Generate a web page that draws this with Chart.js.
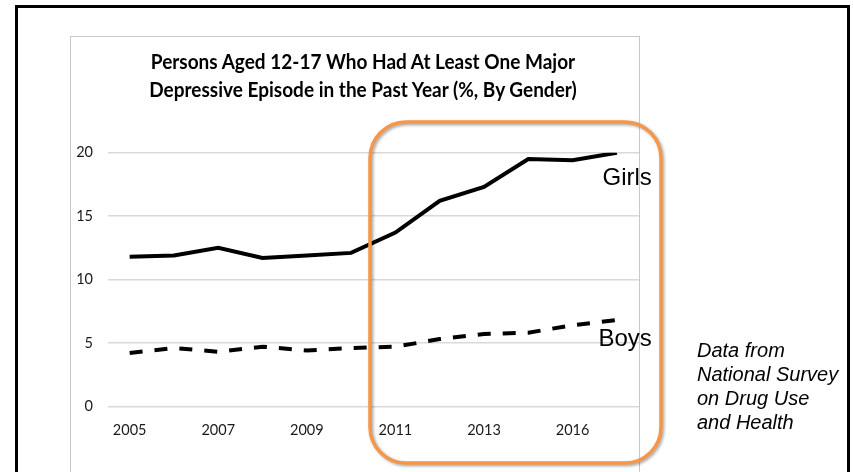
<!DOCTYPE html>
<html>
<head>
<meta charset="utf-8">
<script src="https://cdn.jsdelivr.net/npm/chart.js@4.4.1/dist/chart.umd.min.js"></script>
<style>
  html, body { margin: 0; padding: 0; background: #fff; }
  body { width: 853px; height: 472px; position: relative; overflow: hidden; }
  .frame { position: absolute; left: 15px; top: 5px; width: 829px; height: 600px; border: 3px solid #000; }
  .panel { position: absolute; left: 70px; top: 36px; width: 568px; height: 600px; border: 1px solid #c8c8c8; }
  #chart { position: absolute; left: 0; top: 0; }
  .title { position: absolute; left: 0; top: 46.5px; width: 726px; text-align: center; font: bold 20px Lato, sans-serif; line-height: 28.6px; color: #000; white-space: nowrap; transform: scaleX(0.95); transform-origin: 363px 0; }
  .source { position: absolute; left: 697px; top: 338px; font: italic 20px "Liberation Sans", Arial, sans-serif; line-height: 24px; color: #000; }
</style>
</head>
<body>
<div class="frame"></div>
<div class="panel"></div>
<canvas id="chart" width="853" height="472"></canvas>
<div class="title" id="title"></div>
<div class="source">Data from<br>National Survey<br>on Drug Use<br>and Health</div>
<script>
// Share of persons aged 12-17 with a major depressive episode in the past year (%)
const tickLabels = ['2005', '', '2007', '', '2009', '', '2011', '', '2013', '', '2016', ''];
const girls = [11.8, 11.9, 12.5, 11.7, 11.9, 12.1, 13.7, 16.2, 17.3, 19.5, 19.4, 20.0];
const boys  = [4.2, 4.6, 4.3, 4.7, 4.4, 4.6, 4.7, 5.3, 5.7, 5.8, 6.4, 6.8];
const yTicks = [0, 5, 10, 15, 20];
const titleLines = [
  'Persons Aged 12-17 Who Had At Least One Major',
  'Depressive Episode in the Past Year (%, By Gender)'
];

document.getElementById('title').innerHTML = titleLines.join('<br>');

const tickFont = "Lato, sans-serif";

// Series names written beside the line ends, plus the highlight frame around 2011 onwards
const annotations = {
  id: 'annotations',
  afterDatasetsDraw(chart) {
    const ctx = chart.ctx;
    ctx.save();
    ctx.shadowColor = 'rgba(0,0,0,0.35)';
    ctx.shadowBlur = 3;
    ctx.shadowOffsetX = 1.5;
    ctx.shadowOffsetY = 1.5;
    ctx.strokeStyle = '#f79646';
    ctx.lineWidth = 3.5;
    ctx.beginPath();
    ctx.roundRect(370, 122, 291, 341, 36);
    ctx.stroke();
    ctx.restore();

    ctx.save();
    ctx.fillStyle = '#000';
    ctx.font = '24px "Liberation Sans", Arial, sans-serif';
    ctx.textBaseline = 'alphabetic';
    ctx.textAlign = 'left';
    ctx.fillText('Girls', 602.5, 184.5);
    ctx.fillText('Boys', 598.5, 346);
    ctx.restore();
  }
};

new Chart(document.getElementById('chart'), {
  type: 'line',
  data: {
    labels: tickLabels,
    datasets: [
      {
        label: 'Girls',
        data: girls,
        borderColor: '#000',
        borderWidth: 4,
        pointRadius: 0,
        tension: 0,
        fill: false
      },
      {
        label: 'Boys',
        data: boys,
        borderColor: '#000',
        borderWidth: 4,
        borderDash: [13, 12],
        borderCapStyle: 'butt',
        pointRadius: 0,
        tension: 0,
        fill: false
      }
    ]
  },
  options: {
    responsive: false,
    devicePixelRatio: 1,
    animation: false,
    layout: { padding: { left: 60, right: 214, top: 152.7, bottom: 0 } },
    plugins: {
      legend: { display: false },
      tooltip: { enabled: false },
      title: { display: false }
    },
    scales: {
      x: {
        offset: true,
        grid: { display: false, drawTicks: false },
        border: { display: false },
        ticks: {
          autoSkip: false,
          maxRotation: 0,
          padding: 15,
          color: '#1a1a1a',
          font: { family: tickFont, size: 14.5 }
        },
        afterFit(scale) { scale.height = 65.7; }
      },
      y: {
        min: 0,
        max: 20,
        afterBuildTicks(scale) { scale.ticks = yTicks.map(v => ({ value: v })); },
        grid: { color: '#d9d9d9', lineWidth: 1.5, drawTicks: false },
        border: { display: false },
        ticks: {
          padding: 14.5,
          color: '#1a1a1a',
          font: { family: tickFont, size: 14.5 }
        },
        afterFit(scale) { scale.width = 47.5; }
      }
    }
  },
  plugins: [annotations]
});
</script>
</body>
</html>
